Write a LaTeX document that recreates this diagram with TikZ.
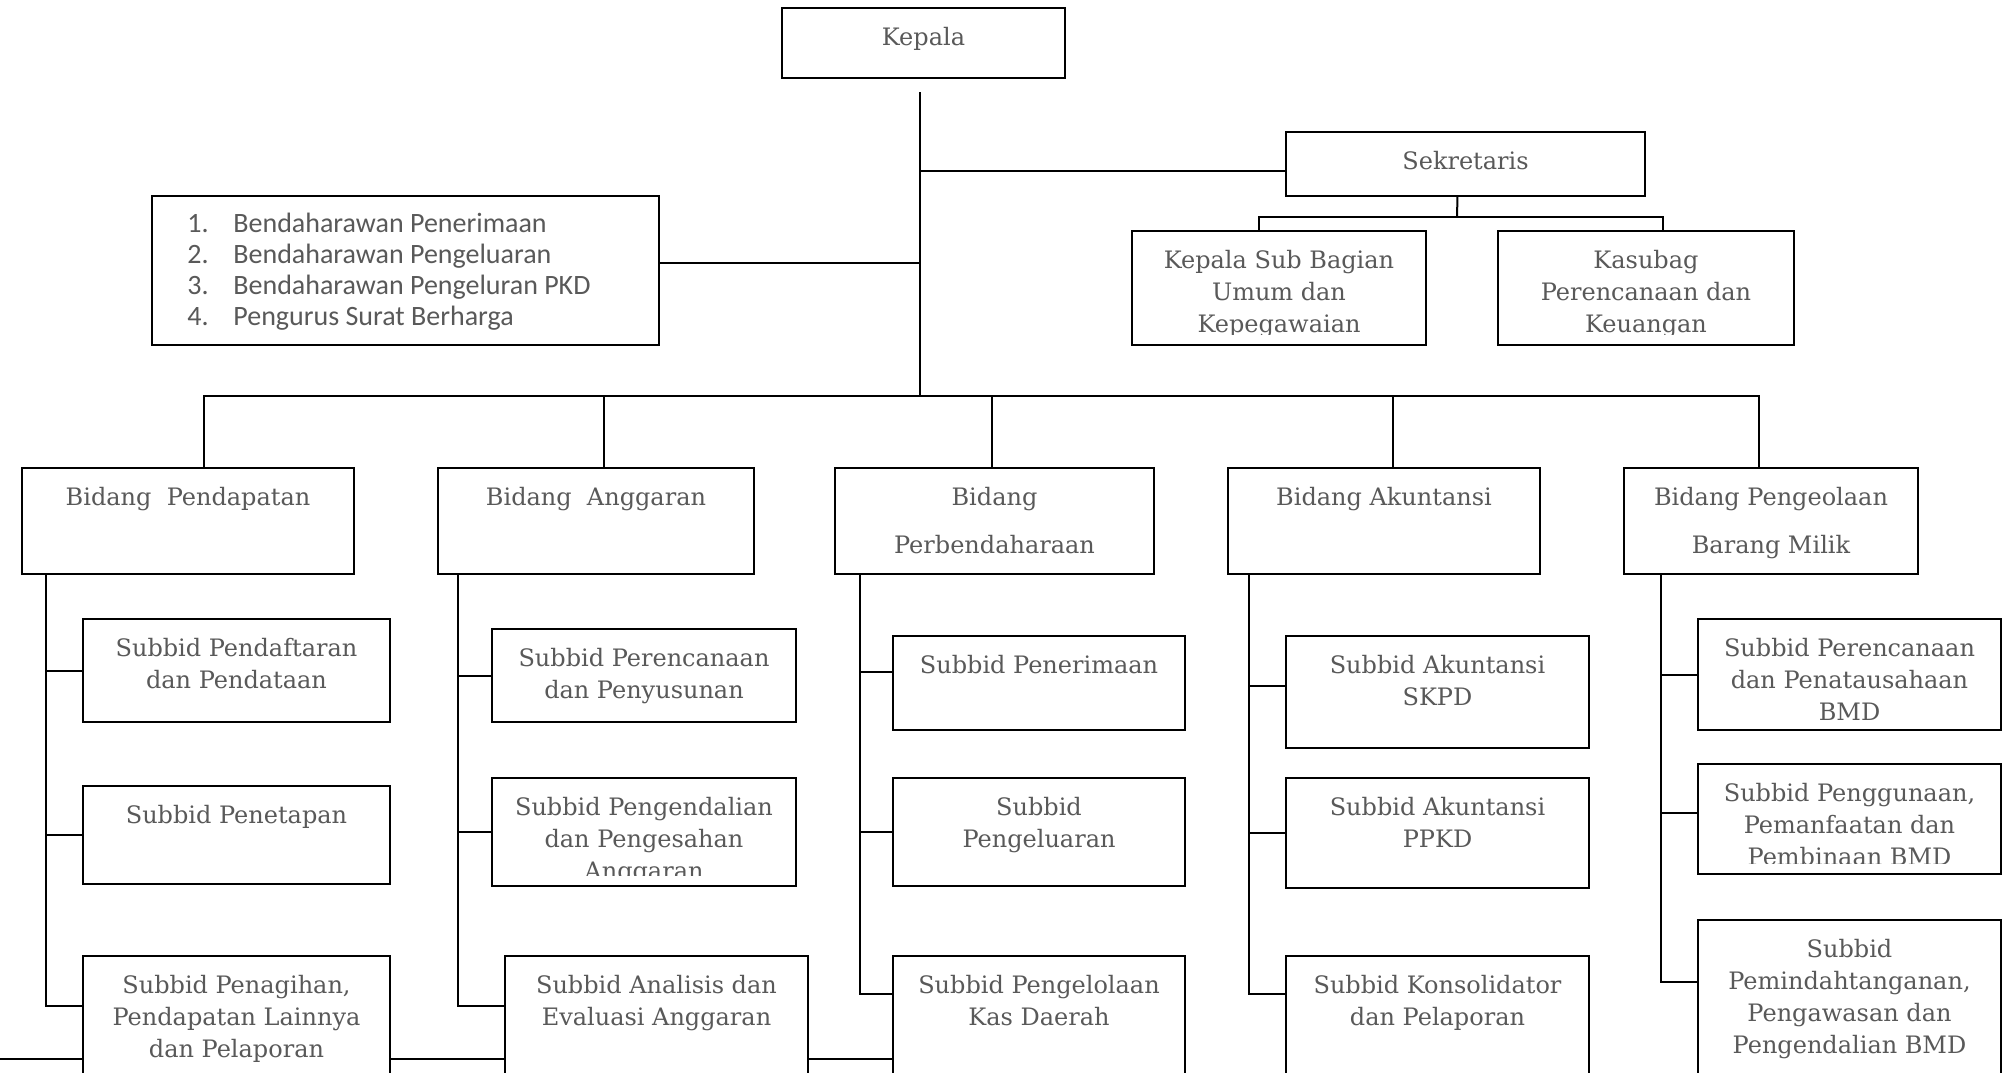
\documentclass[tikz,border=0pt]{standalone}
\usepackage{fontspec}
\newfontfamily\boxfont{DejaVu Serif}
\newfontfamily\listfont{Carlito}
\usetikzlibrary{calc}
\definecolor{txt}{RGB}{89,89,89}
\tikzset{
  orgbox/.style={draw=black, line width=1.2pt, fill=white, rectangle, inner sep=0pt, outer sep=0pt, anchor=north west},
  conn/.style={draw=black, line width=1pt},
}
% #1 line spacing, #2 name, #3 x1, #4 y1, #5 x2, #6 y2, #7 text
\newcommand\obox[7][16pt]{%
  \node[orgbox, minimum width={0.5pt*(#5-#3)}, minimum height={0.5pt*(#6-#4)},
    path picture={%
      \clip ([yshift=5.5pt]path picture bounding box.south west) rectangle (path picture bounding box.north east);
      \node[anchor=base, inner sep=0pt, text=txt, font=\boxfont\fontsize{12}{#1}\selectfont]
        at ([yshift=-18.5pt]path picture bounding box.north) {\begin{tabular}[t]{@{}c@{}}#7\end{tabular}};
    }] (#2) at (#3,#4) {};%
}
\begin{document}
\begin{tikzpicture}[x=0.5pt, y=-0.5pt]
\useasboundingbox (0,0) rectangle (2004,1072);
\clip (0,0) rectangle (2004,1072);
\fill[white] (0,0) rectangle (2004,1072);

% bottom line (partly hidden behind boxes)
\coordinate (botL) at (0,1059);
\coordinate (botR) at (893,1059);
\draw[conn] (botL) -- (botR);

% top part
\obox{kepala}{782}{8}{1065}{78}{Kepala}
\obox{sek}{1286}{132}{1645}{196}{Sekretaris}
\obox{ksb}{1132}{231}{1426}{345}{Kepala Sub Bagian\\Umum dan\\Kepegawaian}
\obox{kas}{1498}{231}{1794}{345}{Kasubag\\Perencanaan dan\\Keuangan}

\node[orgbox, minimum width=253.5pt, minimum height=74.5pt] (bend) at (152,196) {};
\node[anchor=base west, inner sep=0pt, text=txt, font=\listfont\fontsize{14}{15.5}\selectfont] (bendlist) at (187,232)
  {\begin{tabular}[t]{@{}l@{}}
    \makebox[23pt][l]{1.}Bendaharawan Penerimaan\\
    \makebox[23pt][l]{2.}Bendaharawan Pengeluaran\\
    \makebox[23pt][l]{3.}Bendaharawan Pengeluran PKD\\
    \makebox[23pt][l]{4.}Pengurus Surat Berharga
  \end{tabular}};

% bidang
\obox[24pt]{bpend}{22}{468}{354}{574}{Bidang\ \ Pendapatan}
\obox[24pt]{bangg}{438}{468}{754}{574}{Bidang\ \ Anggaran}
\obox[24pt]{bperb}{835}{468}{1154}{574}{Bidang\\Perbendaharaan}
\obox[24pt]{bakun}{1228}{468}{1540}{574}{Bidang Akuntansi}
\obox[24pt]{bbmd}{1624}{468}{1918}{574}{Bidang Pengeolaan\\Barang Milik}

% column 1
\obox{s11}{83}{619}{390}{722}{Subbid Pendaftaran\\dan Pendataan}
\obox{s12}{83}{786}{390}{884}{Subbid Penetapan}
\obox{s13}{83}{956}{390}{1090}{Subbid Penagihan,\\Pendapatan Lainnya\\dan Pelaporan}
% column 2
\obox{s21}{492}{629}{796}{722}{Subbid Perencanaan\\dan Penyusunan\\Anggaran}
\obox{s22}{492}{778}{796}{886}{Subbid Pengendalian\\dan Pengesahan\\Anggaran}
\obox{s23}{505}{956}{808}{1090}{Subbid Analisis dan\\Evaluasi Anggaran}
% column 3
\obox{s31}{893}{636}{1185}{730}{Subbid Penerimaan}
\obox{s32}{893}{778}{1185}{886}{Subbid\\Pengeluaran}
\obox{s33}{893}{956}{1185}{1090}{Subbid Pengelolaan\\Kas Daerah}
% column 4
\obox{s41}{1286}{636}{1589}{748}{Subbid Akuntansi\\SKPD}
\obox{s42}{1286}{778}{1589}{888}{Subbid Akuntansi\\PPKD}
\obox{s43}{1286}{956}{1589}{1090}{Subbid Konsolidator\\dan Pelaporan}
% column 5
\obox{s51}{1698}{619}{2001}{730}{Subbid Perencanaan\\dan Penatausahaan\\BMD}
\obox{s52}{1698}{764}{2001}{874}{Subbid Penggunaan,\\Pemanfaatan dan\\Pembinaan BMD}
\obox{s53}{1698}{920}{2001}{1090}{Subbid\\Pemindahtanganan,\\Pengawasan dan\\Pengendalian BMD}

% trunk and top connectors
\coordinate (trunktop) at (920,92);
\coordinate (bus) at (920,396);
\draw[conn] (trunktop) -- (bus);
\draw[conn] ([yshift=-19.5pt]sek.north west) -| (trunktop);
\draw[conn] ([yshift=3.75pt]bend.east) -| (trunktop);
\coordinate (sekbar) at (1457,217);
\draw[conn] ([xshift=-4pt]sek.south) -- (sekbar);
\draw[conn] ([xshift=-10pt]ksb.north) |- (sekbar) -| ([xshift=8.5pt]kas.north);

% bus and drops
\draw[conn] ([xshift=8pt]bpend.north) |- (bus) -| ([xshift=-6pt]bbmd.north);
\draw[conn] ([xshift=4pt]bangg.north) |- (bus);
\draw[conn] ([xshift=-1.25pt]bperb.north) |- (bus);
\draw[conn] ([xshift=4.5pt]bakun.north) |- (bus);

% spines
\coordinate (sp1) at ([xshift=12pt]bpend.south west);
\coordinate (sp2) at ([xshift=10pt]bangg.south west);
\coordinate (sp3) at ([xshift=12.5pt]bperb.south west);
\coordinate (sp4) at ([xshift=10.5pt]bakun.south west);
\coordinate (sp5) at ([xshift=18.5pt]bbmd.south west);

\draw[conn] (sp1) |- ([yshift=-25pt]s13.north west);
\draw[conn] (s11.west) -- (s11.west -| sp1);
\draw[conn] (s12.west) -- (s12.west -| sp1);

\draw[conn] (sp2) |- ([yshift=-25pt]s23.north west);
\draw[conn] (s21.west) -- (s21.west -| sp2);
\draw[conn] (s22.west) -- (s22.west -| sp2);

\draw[conn] (sp3) |- ([yshift=-19pt]s33.north west);
\draw[conn] ([yshift=-18pt]s31.north west) -- ++(-16.5pt,0);
\draw[conn] (s32.west) -- (s32.west -| sp3);

\draw[conn] (sp4) |- ([yshift=-19pt]s43.north west);
\draw[conn] ([yshift=-25pt]s41.north west) -- ++(-18.5pt,0);
\draw[conn] (s42.west) -- (s42.west -| sp4);

\draw[conn] (sp5) |- ([yshift=-31pt]s53.north west);
\draw[conn] (s51.west) -- (s51.west -| sp5);
\draw[conn] ([yshift=-24.5pt]s52.north west) -- ++(-18.5pt,0);
\end{tikzpicture}
\end{document}
